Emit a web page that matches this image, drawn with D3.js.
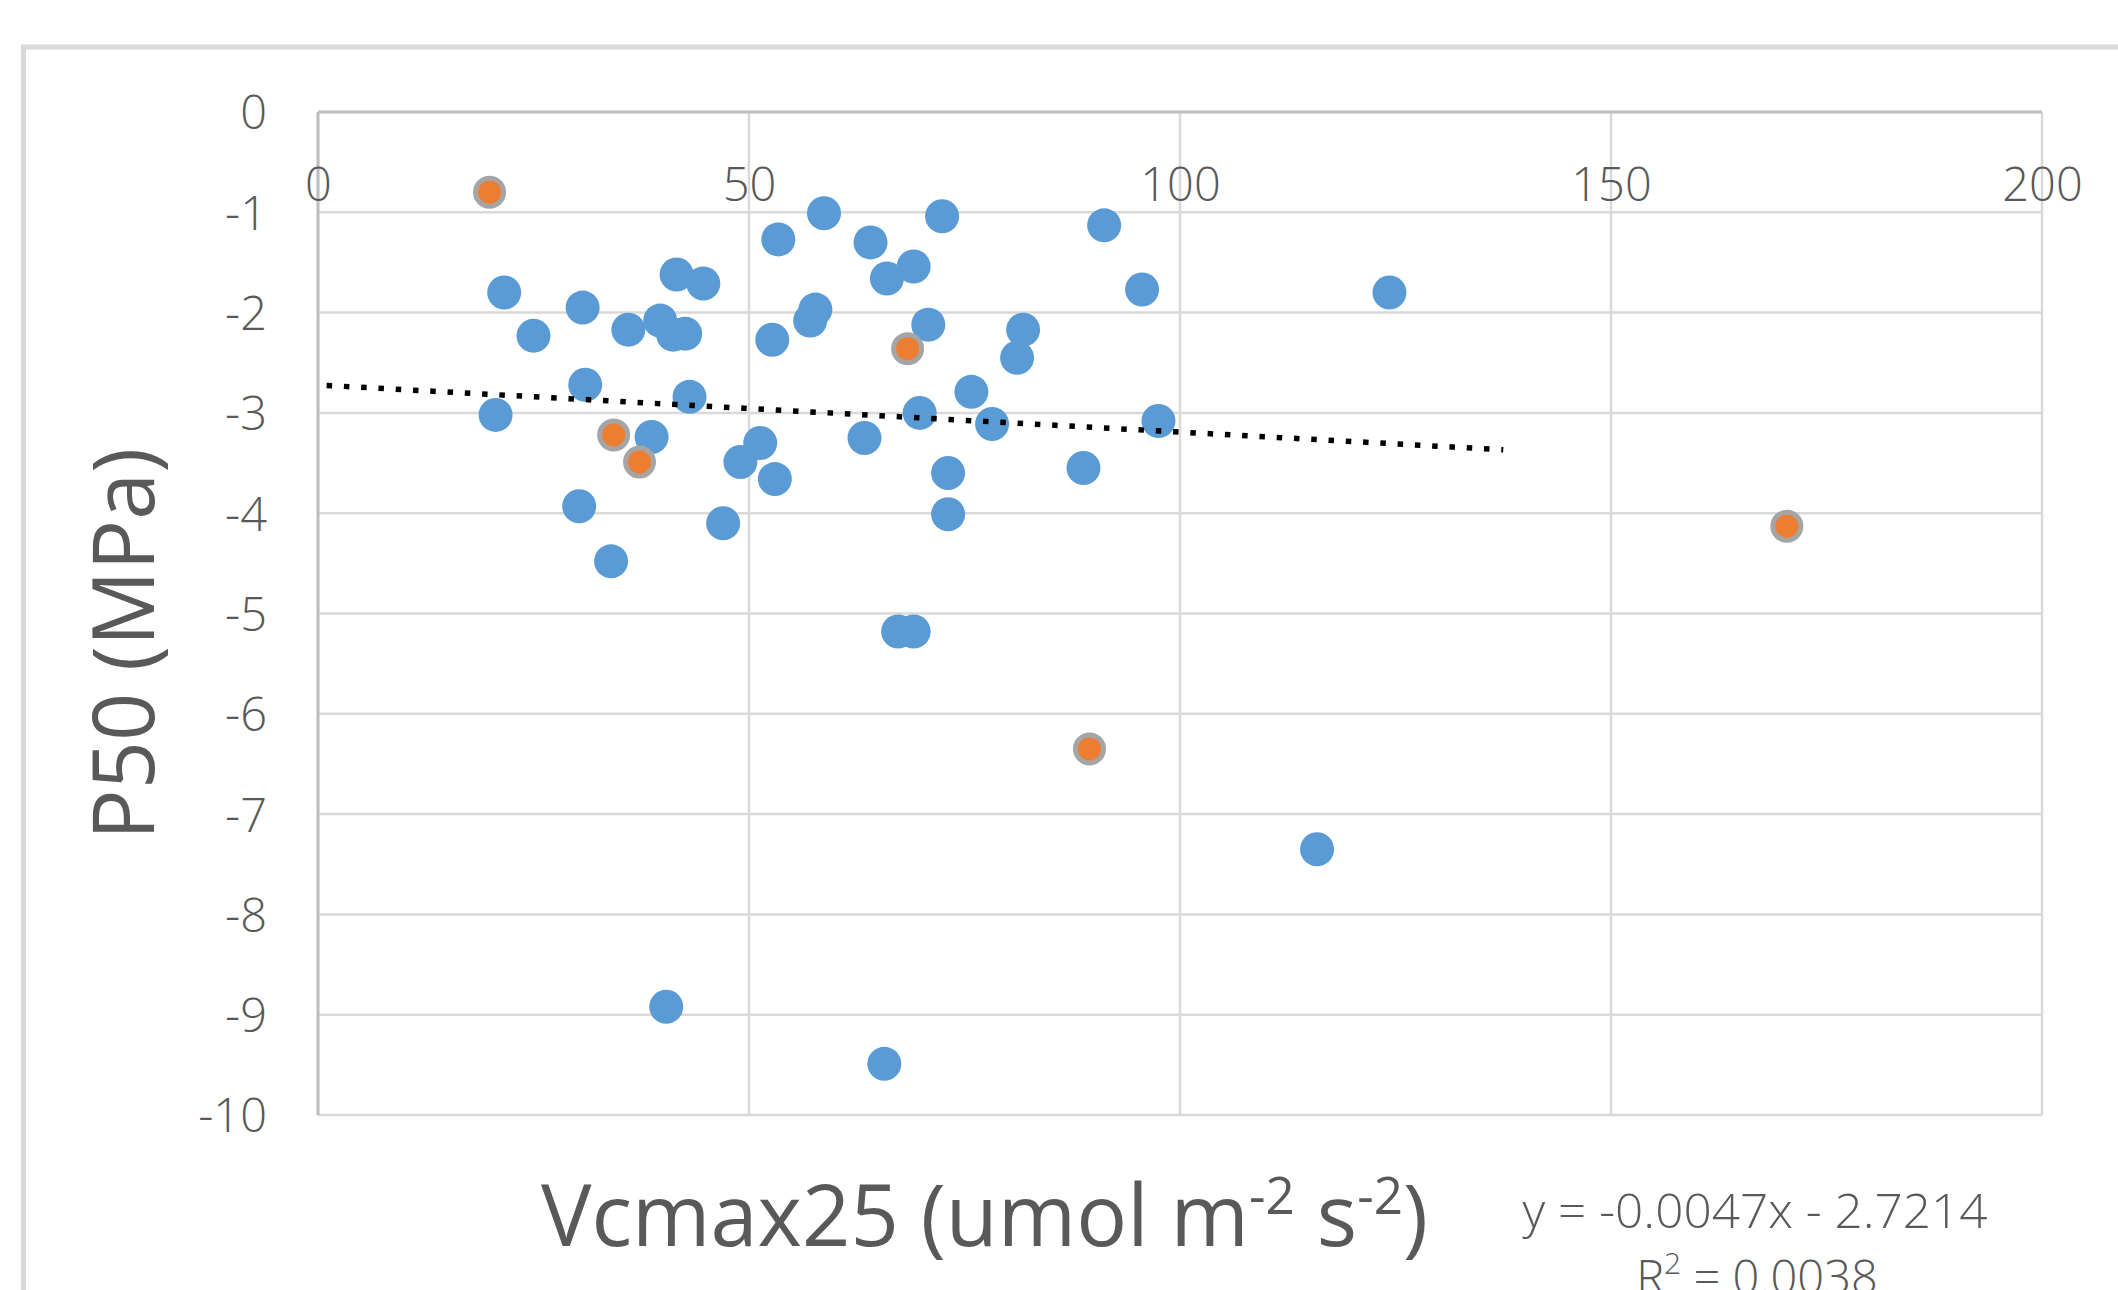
<!DOCTYPE html>
<html>
<head>
<meta charset="utf-8">
<script src="https://cdn.jsdelivr.net/npm/d3@7"></script>
<style>
  html, body { margin: 0; padding: 0; background: #ffffff; }
  svg { display: block; }
</style>
</head>
<body>
<svg id="chart" width="2118" height="1290"></svg>
<script>
// ---- data ----
const blueX = [21.6, 30.7, 25.0, 36.0, 39.7, 41.2, 42.6, 41.6, 44.7, 31.0,
               43.1, 20.6, 38.7, 30.3, 34.0, 49.0, 47.0, 51.3, 53.0, 53.4,
               58.7, 52.7, 57.1, 57.7, 64.1, 66.0, 69.1, 72.4, 70.8, 81.8,
               81.1, 75.8, 69.8, 78.2, 63.4, 73.1, 73.1, 88.8, 91.2, 95.6,
               97.5, 124.3, 67.3, 69.1, 40.4, 65.7, 115.9];
const blueY = [-1.80, -1.95, -2.23, -2.17, -2.08, -2.22, -2.21, -1.62, -1.71, -2.72,
               -2.84, -3.02, -3.24, -3.93, -4.48, -3.49, -4.10, -3.30, -3.66, -1.27,
               -1.01, -2.27, -2.08, -1.97, -1.30, -1.66, -1.54, -1.04, -2.12, -2.17,
               -2.45, -2.79, -3.00, -3.11, -3.25, -3.60, -4.01, -3.55, -1.13, -1.77,
               -3.08, -1.80, -5.18, -5.18, -8.92, -9.49, -7.35];
const orangeX = [19.9, 34.3, 37.3, 68.4, 89.5, 170.4];
const orangeY = [-0.80, -3.22, -3.49, -2.36, -6.35, -4.13];

const xTicks = [0, 50, 100, 150, 200];
const yTicks = [0, -1, -2, -3, -4, -5, -6, -7, -8, -9, -10];

const trendSlope = -0.0047;
const trendIntercept = -2.7214;
const trendRange = [1, 137.5];

const xTitle = "Vcmax25 (umol m";
const yTitle = "P50 (MPa)";
const eqText = "y = -0.0047x - 2.7214";
const r2Value = " = 0.0038";

// ---- layout ----
const svg = d3.select("#chart");
const plot = { left: 318, right: 2042, top: 112, bottom: 1115 };

const x = d3.scaleLinear().domain([0, 200]).range([plot.left, plot.right]);
const y = d3.scaleLinear().domain([0, -10]).range([plot.top, plot.bottom]);

const tickFont = "'Open Sans', 'Liberation Sans', sans-serif";
const titleFont = "'Open Sans', 'Liberation Sans', sans-serif";
const textColor = "#595959";
const plainFormat = d => String(d);

// outer chart border
svg.append("rect")
  .attr("x", 23.5).attr("y", 47)
  .attr("width", 2300).attr("height", 1500)
  .attr("fill", "none")
  .attr("stroke", "#d9d9d9")
  .attr("stroke-width", 5);

// gridlines
const grid = svg.append("g");
grid.selectAll("line.h").data(yTicks).join("line")
  .attr("x1", plot.left).attr("x2", plot.right)
  .attr("y1", d => y(d)).attr("y2", d => y(d))
  .attr("stroke", "#d9d9d9").attr("stroke-width", 2.5);
grid.selectAll("line.v").data(xTicks).join("line")
  .attr("y1", plot.top).attr("y2", plot.bottom)
  .attr("x1", d => x(d)).attr("x2", d => x(d))
  .attr("stroke", "#d9d9d9").attr("stroke-width", 2.5);

// axis lines (darker)
svg.append("line")
  .attr("x1", x(0)).attr("x2", x(0)).attr("y1", plot.top).attr("y2", plot.bottom)
  .attr("stroke", "#bfbfbf").attr("stroke-width", 3);
svg.append("line")
  .attr("x1", plot.left).attr("x2", plot.right).attr("y1", y(0)).attr("y2", y(0))
  .attr("stroke", "#bfbfbf").attr("stroke-width", 3);

// y axis labels
const yAxis = d3.axisLeft(y).tickValues(yTicks).tickSize(0).tickPadding(51)
  .tickFormat(plainFormat);
const gy = svg.append("g").attr("transform", `translate(${plot.left},0)`).call(yAxis);
gy.select(".domain").remove();
gy.selectAll("text")
  .attr("font-family", tickFont).attr("font-weight", 300)
  .attr("font-size", 47).attr("fill", textColor)
  .attr("dy", "0.36em");

// x axis labels (below the y=0 line)
const xAxis = d3.axisBottom(x).tickValues(xTicks).tickSize(0).tickFormat(plainFormat);
const gx = svg.append("g").attr("transform", `translate(0,${y(0)})`).call(xAxis);
gx.select(".domain").remove();
gx.selectAll("text")
  .attr("font-family", tickFont).attr("font-weight", 300)
  .attr("font-size", 47).attr("fill", textColor)
  .attr("y", 72).attr("dy", "0.36em");

// points
const blue = blueX.map((v, i) => ({ x: v, y: blueY[i] }));
const orange = orangeX.map((v, i) => ({ x: v, y: orangeY[i] }));

svg.append("g").selectAll("circle").data(blue).join("circle")
  .attr("cx", d => x(d.x)).attr("cy", d => y(d.y))
  .attr("r", 17).attr("fill", "#5b9bd5");

svg.append("g").selectAll("circle").data(orange).join("circle")
  .attr("cx", d => x(d.x)).attr("cy", d => y(d.y))
  .attr("r", 14).attr("fill", "#ed7d31")
  .attr("stroke", "#a5a5a5").attr("stroke-width", 5);

// trendline
const trend = trendRange.map(v => ({ x: v, y: trendSlope * v + trendIntercept }));
svg.append("path")
  .datum(trend)
  .attr("d", d3.line().x(d => x(d.x)).y(d => y(d.y)))
  .attr("fill", "none")
  .attr("stroke", "#000000")
  .attr("stroke-width", 5.5)
  .attr("stroke-dasharray", "5.5 11.8");

// y title
svg.append("text")
  .attr("transform", "translate(154,644) rotate(-90)")
  .attr("text-anchor", "middle")
  .attr("font-family", titleFont)
  .attr("font-size", 86)
  .attr("fill", textColor)
  .attr("textLength", 392)
  .attr("lengthAdjust", "spacingAndGlyphs")
  .text(yTitle);

// x title with superscripts
const xt = svg.append("text")
  .attr("x", 541).attr("y", 1246)
  .attr("font-family", titleFont)
  .attr("font-size", 86)
  .attr("fill", textColor);
xt.append("tspan").text(xTitle);
xt.append("tspan").attr("font-size", 52).attr("dy", -32).text("-2");
xt.append("tspan").attr("dy", 32).text(" s");
xt.append("tspan").attr("font-size", 52).attr("dy", -32).text("-2");
xt.append("tspan").attr("dy", 32).text(")");
const bb = xt.node().getBBox();
const targetW = 1428 - 541;
xt.attr("transform", `translate(541,0) scale(${targetW / bb.width},1) translate(-541,0)`);

// equation
svg.append("text")
  .attr("x", 1755).attr("y", 1228)
  .attr("text-anchor", "middle")
  .attr("font-family", tickFont).attr("font-weight", 300)
  .attr("font-size", 47).attr("fill", textColor)
  .attr("textLength", 465).attr("lengthAdjust", "spacingAndGlyphs")
  .text(eqText);
const r2 = svg.append("text")
  .attr("x", 1757).attr("y", 1294)
  .attr("text-anchor", "middle")
  .attr("font-family", tickFont).attr("font-weight", 300)
  .attr("font-size", 47).attr("fill", textColor);
r2.append("tspan").text("R");
r2.append("tspan").attr("font-size", 30).attr("dy", -20).text("2");
r2.append("tspan").attr("dy", 20).text(r2Value);
</script>
</body>
</html>
